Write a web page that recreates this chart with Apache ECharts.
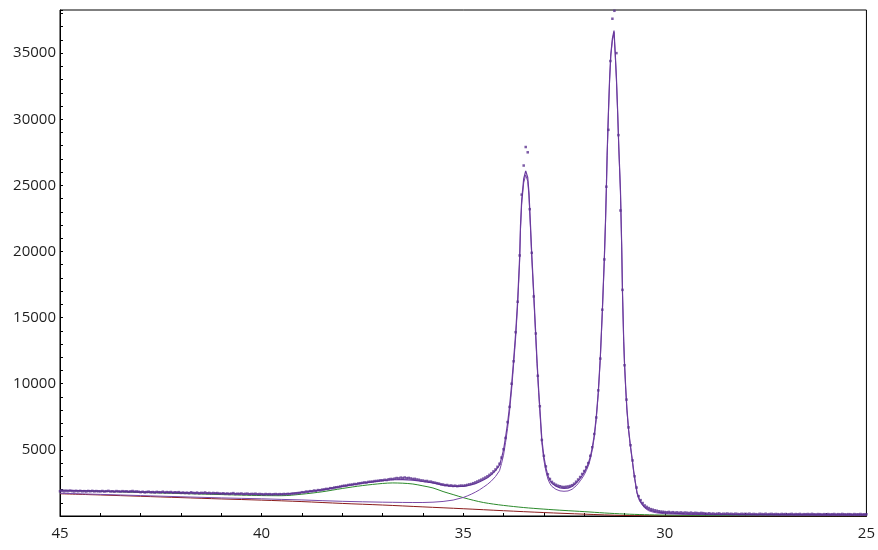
<!DOCTYPE html>
<html>
<head>
<meta charset="utf-8">
<script src="https://cdn.jsdelivr.net/npm/echarts@6/dist/echarts.min.js"></script>
<style>
html,body{margin:0;padding:0;background:#fff;}
#chart{width:878px;height:550px;}
</style>
</head>
<body>
<div id="chart"></div>
<script>
// ---- axis ticks ----
const xTickLabels = [45, 40, 35, 30, 25];
const yTickLabels = [5000, 10000, 15000, 20000, 25000, 30000, 35000];

// ---- measured data (scan from 45 down to 25, step 0.05) ----
const scanStart = 45;
const scanStep = 0.05;
const measured = [
 1870,1905,1860,1890,1875,1912,1884,1858,1896,1870,1902,1866,1880,1855,1893,1872,1900,1862,1885,1868,
 1860,1892,1848,1875,1901,1853,1870,1838,1885,1862,1844,1880,1856,1871,1834,1866,1890,1842,1858,1835,
 1800,1832,1785,1815,1840,1796,1810,1778,1822,1801,1790,1835,1772,1808,1786,1815,1762,1798,1780,1805,
 1745,1772,1738,1760,1725,1790,1748,1730,1766,1712,1750,1738,1775,1722,1745,1705,1740,1718,1736,1700,
 1690,1718,1675,1702,1668,1695,1730,1660,1684,1672,1700,1655,1678,1690,1648,1670,1662,1685,1640,1665,
 1650,1628,1662,1640,1655,1625,1648,1660,1632,1655,1640,1665,1650,1672,1660,1690,1702,1718,1735,1752,
 1800,1790,1845,1838,1880,1872,1925,1905,1960,1948,1995,2010,2050,2041,2105,2098,2150,2172,2190,2230,
 2265,2290,2300,2345,2362,2380,2418,2410,2465,2480,2505,2540,2530,2580,2590,2602,2640,2650,2668,2700,
 2700,2735,2720,2775,2800,2790,2830,2870,2845,2900,2870,2910,2860,2880,2840,2800,2810,2760,2740,2690,
 2680,2640,2650,2590,2600,2545,2520,2480,2450,2395,2380,2330,2345,2290,2310,2270,2290,2255,2280,2300,
 2290,2310,2350,2390,2420,2480,2540,2610,2680,2750,2830,2910,3000,3110,3220,3370,3520,3720,3950,4420,
 5050,5900,7100,8250,10000,11700,13900,16200,19700,24300,26500,27900,27500,23200,19900,16600,13800,10600,8300,5750,
 4550,3750,3150,2800,2580,2450,2360,2290,2250,2200,2190,2210,2230,2270,2330,2440,2590,2760,2950,3180,
 3400,3700,4000,4550,5200,6200,7450,9500,11900,15600,19400,24900,29200,34400,37600,38200,35000,28800,23100,17100,
 11400,8800,6700,5350,4200,3000,2150,1500,1200,980,800,690,600,520,480,430,400,360,330,320,
 300,280,310,260,290,250,275,240,270,230,260,245,220,255,210,240,225,200,235,215,
 190,170,205,160,185,150,175,195,140,170,160,185,150,165,140,175,155,135,165,150,
 160,145,175,130,155,140,120,165,150,135,170,125,145,160,130,150,140,120,155,135,
 150,125,140,160,120,145,130,155,115,140,135,150,125,160,130,120,145,135,115,140,
 130,145,120,135,150,115,140,125,155,130,120,140,135,110,145,125,130,150,120,135,
 130
];

// ---- fitted curves ----
const xFit = [
 45,44,43,42,41,40.5,40,39.5,39,38.5,
 38,37.5,37,36.75,36.5,36.25,36,35.75,35.5,35.25,
 35,34.9,34.8,34.7,34.6,34.5,34.4,34.3,34.2,34.1,
 34.05,34,33.95,33.9,33.85,33.8,33.75,33.7,33.65,33.6,
 33.58,33.55,33.5,33.45,33.43,33.4,33.37,33.33,33.3,33.25,
 33.21,33.17,33.13,33.1,33.05,33,32.95,32.9,32.85,32.8,
 32.7,32.6,32.5,32.4,32.3,32.2,32.15,32.1,32.05,32,
 31.95,31.9,31.85,31.8,31.75,31.7,31.65,31.6,31.55,31.5,
 31.47,31.45,31.43,31.4,31.37,31.34,31.3,31.26,31.23,31.2,
 31.17,31.14,31.1,31.07,31.05,31.02,31,30.97,30.94,30.9,
 30.86,30.8,30.77,30.73,30.69,30.63,30.57,30.5,30.4,30.3,
 30.2,30,29.5,29,28,27,26,25
];
const fitTotal = [
 1960,1890,1825,1760,1700,1670,1645,1645,1775,1970,
 2240,2485,2675,2740,2745,2715,2610,2510,2330,2240,
 2240,2290,2360,2450,2570,2720,2900,3130,3430,3850,
 4380,5000,5950,7000,8300,9900,11800,13800,16300,19600,
 21900,23900,25500,26100,26200,25600,24500,21900,19800,16800,
 14300,11800,9600,8200,5800,4500,3650,3050,2700,2480,
 2250,2130,2090,2110,2230,2480,2650,2850,3060,3300,
 3600,3950,4440,5150,6100,7500,9400,12000,15500,19500,
 22400,24800,27400,30400,33000,34900,36100,36700,35000,33100,
 30600,27800,24600,20500,17000,13300,11600,9700,8100,6600,
 5500,4100,3350,2550,1800,1250,950,680,470,370,
 300,230,170,140,115,100,90,85
];
const fitPeaks = [
 1720,1635,1545,1455,1370,1335,1300,1255,1215,1160,
 1110,1075,1045,1035,1025,1020,1020,1045,1100,1205,
 1400,1515,1650,1800,1972,2175,2388,2651,2980,3425,
 3967,4600,5560,6620,7930,9540,11445,13455,15965,19270,
 21575,23580,25190,25795,25900,25300,24200,21610,19510,16515,
 14020,11525,9330,7930,5535,4240,3395,2800,2450,2235,
 2015,1900,1870,1895,2020,2280,2450,2655,2865,3110,
 3415,3770,4265,4980,5935,7340,9245,11850,15355,19360,
 22260,24660,27265,30265,32870,34770,35970,36575,34875,32980,
 30480,27680,24485,20385,16885,13190,11490,9590,7995,6495,
 5400,4005,3255,2460,1710,1165,870,605,398,300,
 234,170,120,100,85,75,70,65
];

const xHump = [45,44,43,42,41,40.5,40,39.5,39,38.5,38,37.5,37,36.75,36.5,36.25,36,35.75,35.5,35.25,35,34.75,34.5,34.25,34,33.5,33,32.5,32,31.5,31,30.5,30,29,28,27,26,25];
const fitHump = [1945,1865,1780,1700,1620,1580,1545,1535,1650,1830,2080,2300,2460,2500,2480,2420,2280,2120,1850,1620,1390,1190,1020,900,800,640,520,420,330,230,150,100,70,45,30,25,20,20];

const xBase = [45,44,43,42,41,40,39,38,37,36,35,34,33,32,31,30,29,28,27,26,25];
const fitBase = [1680,1590,1490,1390,1290,1200,1090,950,830,690,550,400,260,140,40,10,5,0,0,0,0];

// ---- build ----
const pairs = (xs, ys) => xs.map((x, i) => [x, ys[i]]);
const measuredPts = measured.map((v, i) => [+(scanStart - i * scanStep).toFixed(2), v]);

const chart = echarts.init(document.getElementById('chart'), null, {renderer: 'canvas'});
const labelFont = {color: '#1e1e1e', fontSize: 15, fontFamily: 'Open Sans'};
chart.setOption({
  animation: false,
  backgroundColor: '#ffffff',
  grid: {left: 60, right: 10, top: 10, bottom: 34, show: true, borderColor: '#000', borderWidth: 1, backgroundColor: 'transparent'},
  xAxis: {
    type: 'value', min: 25, max: 45, inverse: true, interval: 1,
    axisLine: {show: true, onZero: false, lineStyle: {color: '#000', width: 1}},
    axisTick: {show: true, inside: true, length: 3, lineStyle: {color: '#000'}},
    axisLabel: Object.assign({margin: 10, formatter: v => xTickLabels.includes(v) ? String(v) : ''}, labelFont),
    splitLine: {show: false}
  },
  yAxis: {
    type: 'value', min: 0, max: 38260, interval: 1000,
    axisLine: {show: true, onZero: false, lineStyle: {color: '#000', width: 1}},
    axisTick: {show: true, inside: true, length: 3, lineStyle: {color: '#000'}},
    axisLabel: Object.assign({margin: 4, formatter: v => yTickLabels.includes(v) ? String(v) : ''}, labelFont),
    splitLine: {show: false}
  },
  series: [
    {type: 'line', data: pairs(xBase, fitBase), showSymbol: false, smooth: 0.3, lineStyle: {color: '#8b1c1c', width: 1}, z: 2},
    {type: 'line', data: pairs(xHump, fitHump), showSymbol: false, smooth: 0.3, lineStyle: {color: '#2b8a2b', width: 1}, z: 3},
    {type: 'line', data: pairs(xFit, fitPeaks), showSymbol: false, lineStyle: {color: '#7a4aa8', width: 1}, z: 4},
    {type: 'line', data: pairs(xFit, fitTotal), showSymbol: false, lineStyle: {color: '#6a3a9e', width: 1.2}, z: 5},
    {type: 'scatter', data: measuredPts, symbol: 'rect', symbolSize: 2.5, itemStyle: {color: '#5b3290'}, z: 6}
  ]
});
</script>
</body>
</html>
